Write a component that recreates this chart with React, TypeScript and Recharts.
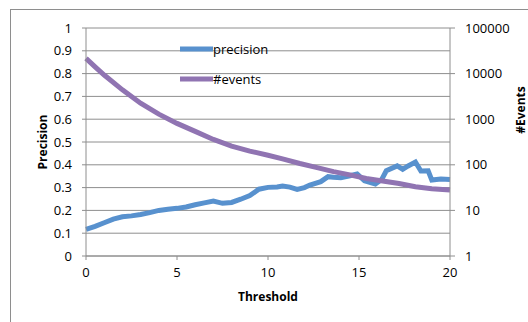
import React from 'react';
import { ComposedChart, Line, XAxis, YAxis, CartesianGrid, Legend } from 'recharts';

const precisionT = [0, 0.5, 1, 1.5, 2, 2.5, 3, 3.5, 4, 4.5, 5, 5.5, 6, 6.5, 7, 7.5, 8, 8.5, 9, 9.5, 10, 10.5, 10.8, 11.2, 11.6, 12, 12.3, 12.9, 13.3, 13.6, 14, 14.5, 14.9, 15.3, 15.9, 16.25, 16.5, 17.1, 17.4, 17.7, 18.1, 18.4, 18.8, 19, 19.5, 20];
const precisionV = [0.117, 0.13, 0.146, 0.162, 0.172, 0.176, 0.182, 0.19, 0.2, 0.205, 0.209, 0.215, 0.225, 0.233, 0.241, 0.231, 0.235, 0.249, 0.265, 0.293, 0.301, 0.303, 0.307, 0.302, 0.292, 0.3, 0.311, 0.326, 0.348, 0.345, 0.343, 0.352, 0.36, 0.33, 0.316, 0.336, 0.374, 0.395, 0.38, 0.395, 0.412, 0.373, 0.374, 0.333, 0.338, 0.336];

const eventsT = [0, 0.5, 1, 2, 3, 4, 5, 6, 7, 8, 9, 10, 10.8, 11.75, 12.7, 13.6, 14.5, 15.4, 16.3, 17.2, 18.1, 19, 20];
const eventsV = [21600, 14100, 9300, 4400, 2240, 1290, 810, 540, 360, 257, 200, 162, 135, 107, 87, 71, 60, 50, 44, 39, 33, 30, 28];

const xTicks = [0, 5, 10, 15, 20];
const leftTicks = [0, 0.1, 0.2, 0.3, 0.4, 0.5, 0.6, 0.7, 0.8, 0.9, 1];
const rightTicks = [1, 10, 100, 1000, 10000, 100000];

const seriesNames = ['precision', '#events'];
const colors = ['#5891ce', '#9074b2'];

const allT = Array.from(new Set([...precisionT, ...eventsT])).sort((a, b) => a - b);
const data = allT.map((t) => {
  const pi = precisionT.indexOf(t);
  const ei = eventsT.indexOf(t);
  return {
    t,
    precision: pi >= 0 ? precisionV[pi] : undefined,
    events: ei >= 0 ? eventsV[ei] : undefined,
  };
});

const FONT = '"Open Sans", sans-serif';
const gray = '#8e8e8e';

const LegendContent = () => (
  <svg width={120} height={50}>
    {seriesNames.map((n, i) => (
      <g key={n}>
        <line x1={0} x2={33} y1={9 + i * 30} y2={9 + i * 30} stroke={colors[i]} strokeWidth={5} />
        <text x={33} y={9 + i * 30} dy="0.35em" fontSize={13} fontFamily={FONT} fill="#000">{n}</text>
      </g>
    ))}
  </svg>
);

export default function App() {
  return (
    <div style={{ position: 'absolute', left: 0, top: 0, width: 528, height: 322, background: '#fff', overflow: 'hidden' }}>
      <div style={{ position: 'absolute', left: 10, top: 9, width: 700, height: 500, border: `1px solid ${gray}` }} />
      <div style={{ position: 'absolute', left: 0, top: 0 }}>
        <ComposedChart width={528} height={322} data={data} margin={{ top: 28, right: 18, bottom: 26, left: 46 }}>
          <CartesianGrid yAxisId="left" vertical={false} stroke={gray} strokeWidth={1} />
          <XAxis
            dataKey="t"
            type="number"
            domain={[0, 20]}
            ticks={xTicks}
            interval={0}
            height={40}
            tickSize={4}
            tickMargin={8}
            stroke={gray}
            tick={{ fill: '#000', fontSize: 13, fontFamily: FONT }}
            label={{ content: () => (
              <text x={268} y={297} dy="0.35em" textAnchor="middle" fontSize={12} fontWeight="bold" fontFamily={FONT} fill="#000">Threshold</text>
            ) }}
          />
          <YAxis
            yAxisId="left"
            domain={[0, 1]}
            ticks={leftTicks}
            interval={0}
            width={40}
            tickSize={4}
            tickMargin={10}
            stroke={gray}
            tick={{ fill: '#000', fontSize: 13, fontFamily: FONT }}
            label={{ content: () => (
              <text x={43} y={142} dy="0.35em" textAnchor="middle" transform="rotate(-90 43 142)" fontSize={12} fontWeight="bold" fontFamily={FONT} fill="#000">Precision</text>
            ) }}
          />
          <YAxis
            yAxisId="right"
            orientation="right"
            scale="log"
            domain={[1, 100000]}
            ticks={rightTicks}
            interval={0}
            allowDataOverflow
            width={60}
            tickSize={5}
            tickMargin={10}
            stroke={gray}
            tick={{ fill: '#000', fontSize: 13, fontFamily: FONT }}
            label={{ content: () => (
              <text x={521} y={110} dy="0.35em" textAnchor="middle" transform="rotate(-90 521 110)" fontSize={12} fontWeight="bold" fontFamily={FONT} fill="#000">#Events</text>
            ) }}
          />
          <Legend layout="vertical" align="center" verticalAlign="middle" content={<LegendContent />} wrapperStyle={{ position: 'absolute', left: 180, top: 40, width: 120, height: 50 }} />
          <Line yAxisId="left" dataKey="precision" name={seriesNames[0]} stroke={colors[0]} strokeWidth={5} dot={false} connectNulls isAnimationActive={false} />
          <Line yAxisId="right" dataKey="events" name={seriesNames[1]} stroke={colors[1]} strokeWidth={5} dot={false} connectNulls isAnimationActive={false} />
        </ComposedChart>
      </div>
    </div>
  );
}
